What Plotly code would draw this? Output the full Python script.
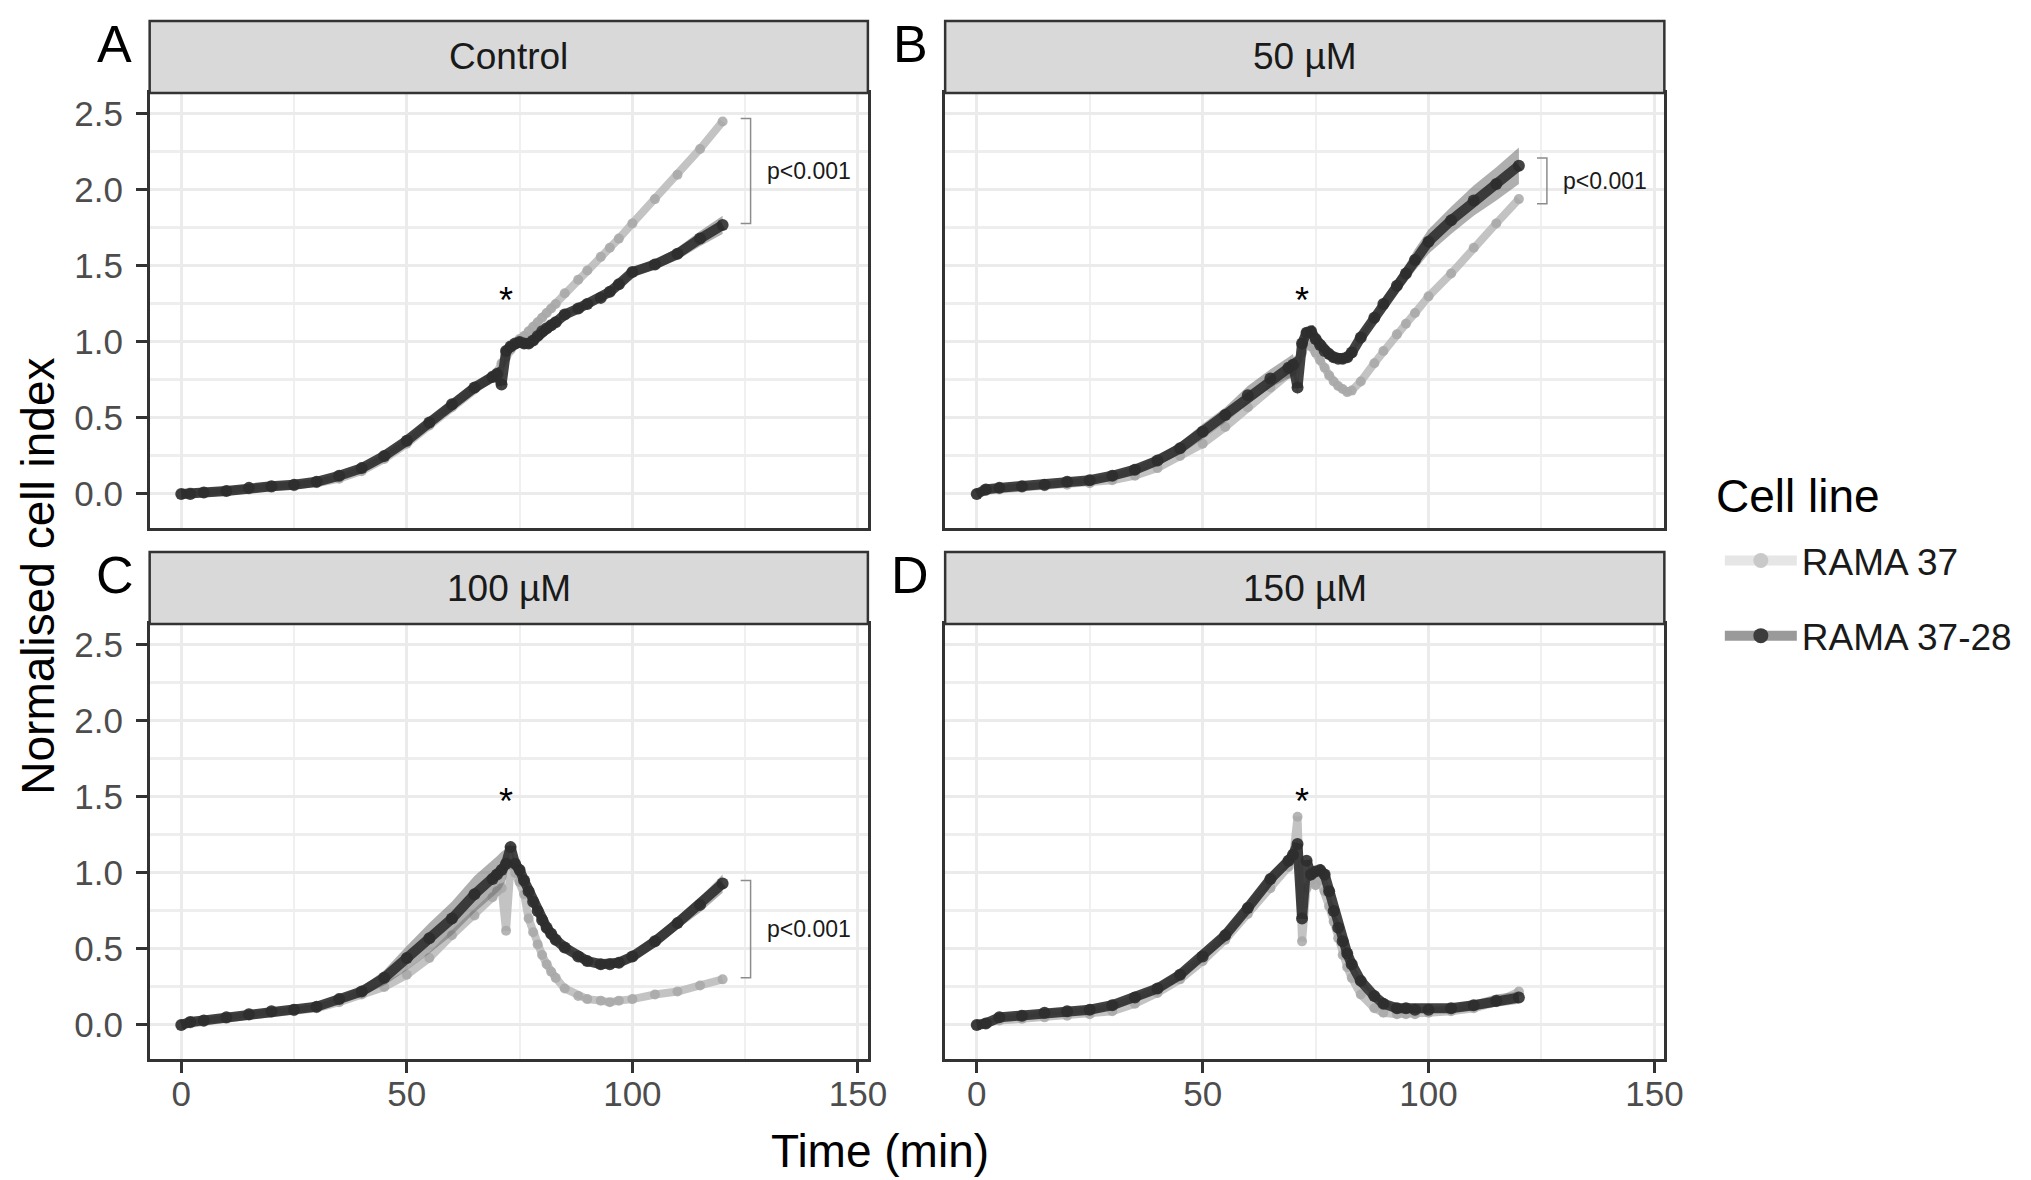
import plotly.graph_objects as go

# sampling times (min) shared by all panels
time_min = [0, 2, 5, 10, 15, 20, 25, 30, 35, 40, 45, 50, 55, 60, 65, 69, 70, 71, 72, 73,
            74, 75, 76, 77, 78, 79, 80, 81, 82, 83, 85, 88, 90, 93, 95, 97, 100, 105, 110, 115, 120]

panel_names = ["Control", "50 µM", "100 µM", "150 µM"]
panel_letters = ["A", "B", "C", "D"]
cell_lines = ["RAMA 37", "RAMA 37-28"]

# RAMA 37 (light grey)
rama37_control = [0.00, 0.01, 0.01, 0.02, 0.03, 0.04, 0.05, 0.07, 0.10, 0.15, 0.23, 0.33, 0.45, 0.57, 0.69, 0.78, 0.80, 0.86, 0.90, 0.95,
                  0.98, 1.02, 1.04, 1.07, 1.10, 1.13, 1.16, 1.19, 1.22, 1.25, 1.32, 1.41, 1.47, 1.56, 1.62, 1.68, 1.78, 1.94, 2.10, 2.27, 2.45]
rama37_50 = [0.00, 0.02, 0.03, 0.04, 0.05, 0.06, 0.07, 0.09, 0.12, 0.17, 0.25, 0.33, 0.44, 0.57, 0.70, 0.79, 0.81, 0.88, 0.93, 0.99,
             0.97, 0.93, 0.88, 0.83, 0.78, 0.74, 0.71, 0.69, 0.67, 0.68, 0.74, 0.86, 0.94, 1.05, 1.12, 1.19, 1.30, 1.45, 1.62, 1.78, 1.94]
rama37_100 = [0.00, 0.01, 0.02, 0.04, 0.06, 0.08, 0.09, 0.11, 0.15, 0.20, 0.25, 0.33, 0.44, 0.59, 0.72, 0.84, 0.88, 0.90, 0.62, 1.05,
              1.00, 0.94, 0.86, 0.70, 0.61, 0.53, 0.46, 0.40, 0.35, 0.31, 0.24, 0.19, 0.17, 0.16, 0.15, 0.16, 0.17, 0.20, 0.22, 0.26, 0.30]
rama37_150 = [0.00, 0.01, 0.03, 0.04, 0.05, 0.06, 0.07, 0.09, 0.14, 0.21, 0.30, 0.42, 0.56, 0.73, 0.90, 1.04, 1.10, 1.37, 0.55, 0.90,
              0.95, 0.92, 0.95, 0.88, 0.78, 0.68, 0.57, 0.46, 0.38, 0.31, 0.20, 0.11, 0.08, 0.07, 0.07, 0.07, 0.08, 0.09, 0.11, 0.15, 0.22]

# RAMA 37-28 (dark grey)
rama3728_control = [0.00, 0.00, 0.01, 0.02, 0.04, 0.05, 0.06, 0.08, 0.12, 0.17, 0.25, 0.35, 0.47, 0.59, 0.70, 0.77, 0.79, 0.72, 0.94, 0.97,
                    0.99, 1.00, 0.99, 0.99, 1.01, 1.04, 1.07, 1.09, 1.11, 1.13, 1.18, 1.22, 1.25, 1.29, 1.33, 1.38, 1.46, 1.51, 1.58, 1.68, 1.77]
rama3728_50 = [0.00, 0.03, 0.04, 0.05, 0.06, 0.08, 0.09, 0.12, 0.16, 0.22, 0.30, 0.41, 0.52, 0.65, 0.76, 0.83, 0.85, 0.70, 0.99, 1.06,
               1.07, 1.02, 0.98, 0.94, 0.92, 0.90, 0.89, 0.89, 0.90, 0.93, 1.03, 1.16, 1.25, 1.37, 1.45, 1.54, 1.66, 1.80, 1.93, 2.04, 2.16]
rama3728_100 = [0.00, 0.02, 0.03, 0.05, 0.07, 0.09, 0.10, 0.12, 0.17, 0.22, 0.31, 0.44, 0.57, 0.70, 0.86, 0.96, 0.99, 1.02, 1.06, 1.17,
                1.06, 1.02, 0.95, 0.88, 0.81, 0.75, 0.69, 0.64, 0.60, 0.56, 0.51, 0.45, 0.42, 0.40, 0.40, 0.41, 0.45, 0.55, 0.67, 0.79, 0.93]
rama3728_150 = [0.00, 0.01, 0.05, 0.06, 0.08, 0.09, 0.10, 0.13, 0.18, 0.24, 0.33, 0.45, 0.59, 0.77, 0.96, 1.08, 1.12, 1.19, 0.70, 1.08,
                0.99, 1.01, 1.02, 0.99, 0.88, 0.75, 0.64, 0.55, 0.47, 0.40, 0.29, 0.19, 0.14, 0.11, 0.11, 0.10, 0.10, 0.11, 0.13, 0.16, 0.18]

# spread of the RAMA 37-28 replicates (half width of the ribbon)
spread3728_control = [0.02, 0.02, 0.02, 0.02, 0.02, 0.02, 0.02, 0.02, 0.02, 0.02, 0.02, 0.03, 0.03, 0.03, 0.04, 0.04, 0.04, 0.04, 0.03, 0.02,
                      0.02, 0.02, 0.02, 0.02, 0.02, 0.02, 0.02, 0.02, 0.02, 0.02, 0.02, 0.02, 0.02, 0.02, 0.02, 0.03, 0.03, 0.03, 0.04, 0.05, 0.06]
spread3728_50 = [0.02, 0.02, 0.02, 0.02, 0.02, 0.02, 0.02, 0.02, 0.02, 0.03, 0.04, 0.05, 0.05, 0.06, 0.06, 0.07, 0.07, 0.05, 0.03, 0.02,
                 0.02, 0.02, 0.02, 0.02, 0.02, 0.02, 0.02, 0.02, 0.02, 0.02, 0.03, 0.03, 0.04, 0.05, 0.06, 0.07, 0.08, 0.09, 0.10, 0.11, 0.12]
spread3728_100 = [0.02, 0.02, 0.02, 0.02, 0.02, 0.02, 0.02, 0.02, 0.02, 0.03, 0.05, 0.08, 0.10, 0.11, 0.12, 0.12, 0.12, 0.12, 0.10, 0.03,
                  0.02, 0.02, 0.02, 0.02, 0.02, 0.02, 0.02, 0.02, 0.02, 0.02, 0.02, 0.02, 0.02, 0.02, 0.02, 0.03, 0.03, 0.04, 0.04, 0.05, 0.06]
spread3728_150 = [0.02, 0.02, 0.02, 0.02, 0.02, 0.02, 0.02, 0.02, 0.02, 0.03, 0.03, 0.03, 0.04, 0.04, 0.04, 0.04, 0.04, 0.03, 0.02, 0.02,
                  0.02, 0.02, 0.02, 0.02, 0.02, 0.02, 0.02, 0.02, 0.02, 0.02, 0.02, 0.02, 0.02, 0.02, 0.02, 0.02, 0.02, 0.02, 0.03, 0.04, 0.04]

pvalue_panels = ["Control", "50 µM", "100 µM"]
pvalue_text = "p<0.001"
star_y = [1.27, 1.27, 1.47, 1.47]
star_x = 72

light37 = [rama37_control, rama37_50, rama37_100, rama37_150]
dark3728 = [rama3728_control, rama3728_50, rama3728_100, rama3728_150]
spread3728 = [spread3728_control, spread3728_50, spread3728_100, spread3728_150]

W, H = 2031, 1180
FONT = "Liberation Sans, Arial, Helvetica, sans-serif"

# panel boxes in pixels: (left, right, strip_top, plot_top, plot_bottom)
boxes = [
    (143, 868, 13, 85, 520),
    (946, 1672, 13, 85, 520),
    (143, 868, 544, 616, 1051),
    (946, 1672, 544, 616, 1051),
]

fig = go.Figure()

for i in range(4):
    ax = "" if i == 0 else str(i + 1)
    xref, yref = "x" + ax, "y" + ax
    lo = [m - s for m, s in zip(dark3728[i], spread3728[i])]
    hi = [m + s for m, s in zip(dark3728[i], spread3728[i])]

    fig.add_trace(go.Scatter(x=time_min, y=light37[i], mode="lines+markers",
                             line=dict(color="rgba(185,185,185,0.85)", width=8),
                             marker=dict(color="rgba(168,168,168,0.85)", size=10),
                             showlegend=False, xaxis=xref, yaxis=yref, hoverinfo="skip"))
    fig.add_trace(go.Scatter(x=time_min, y=hi, mode="lines", line=dict(width=0),
                             showlegend=False, xaxis=xref, yaxis=yref, hoverinfo="skip"))
    fig.add_trace(go.Scatter(x=time_min, y=lo, mode="lines", line=dict(width=0),
                             fill="tonexty", fillcolor="rgba(110,110,110,0.55)",
                             showlegend=False, xaxis=xref, yaxis=yref, hoverinfo="skip"))
    fig.add_trace(go.Scatter(x=time_min, y=dark3728[i], mode="lines+markers",
                             line=dict(color="rgba(45,45,45,0.9)", width=10),
                             marker=dict(color="rgba(45,45,45,0.9)", size=12),
                             showlegend=False, xaxis=xref, yaxis=yref, hoverinfo="skip"))

# legend entries
fig.add_trace(go.Scatter(x=[None], y=[None], mode="lines+markers", name=cell_lines[0],
                         legendgroup="a", line=dict(color="#E6E6E6", width=24),
                         marker=dict(color="#C9C9C9", size=15)))
fig.add_trace(go.Scatter(x=[None], y=[None], mode="lines+markers", name=cell_lines[1],
                         legendgroup="b", line=dict(color="#9A9A9A", width=24),
                         marker=dict(color="#3C3C3C", size=15)))

layout = dict(
    width=W, height=H, margin=dict(l=0, r=0, t=0, b=0),
    paper_bgcolor="white", plot_bgcolor="white",
    font=dict(family=FONT, color="#1A1A1A"),
    showlegend=True,
    legend=dict(x=1728 / W, y=1 - 522 / H, xanchor="left", yanchor="top",
                font=dict(size=37, color="#1A1A1A"), itemwidth=72,
                tracegroupgap=24, bgcolor="rgba(0,0,0,0)"),
)

shapes = []
annotations = []
for i, (l, r, st, pt, pb) in enumerate(boxes):
    ax = "" if i == 0 else str(i + 1)
    bottom_row = i >= 2
    left_col = i % 2 == 0
    layout["xaxis" + ax] = dict(
        domain=[l / W, r / W], anchor="y" + ax, range=[-7.0, 152.2],
        tickvals=[0, 50, 100, 150], showticklabels=bottom_row,
        ticks="outside" if bottom_row else "", ticklen=11, tickwidth=2.5, tickcolor="#333333",
        ticklabelstandoff=-9,
        tickfont=dict(size=35, color="#4D4D4D"),
        showgrid=True, gridcolor="#EBEBEB", gridwidth=2.5, zeroline=False,
        minor=dict(tickvals=[25, 75, 125], showgrid=True, gridcolor="#F0F0F0", gridwidth=1.5),
        showline=True, mirror=True, linecolor="#333333", linewidth=2.5,
    )
    layout["yaxis" + ax] = dict(
        domain=[1 - pb / H, 1 - pt / H], anchor="x" + ax, range=[-0.224, 2.638],
        tickvals=[0, 0.5, 1.0, 1.5, 2.0, 2.5], tickformat=".1f", showticklabels=left_col,
        ticks="outside" if left_col else "", ticklen=11, tickwidth=2.5, tickcolor="#333333",
        ticklabelstandoff=6,
        tickfont=dict(size=35, color="#4D4D4D"),
        showgrid=True, gridcolor="#EBEBEB", gridwidth=3, zeroline=False,
        minor=dict(tickvals=[0.25, 0.75, 1.25, 1.75, 2.25], showgrid=True, gridcolor="#EEEEEE", gridwidth=2.5),
        showline=True, mirror=True, linecolor="#333333", linewidth=2.5,
    )
    # facet strip
    shapes.append(dict(type="rect", xref="paper", yref="paper",
                       x0=l / W, x1=r / W, y0=1 - pt / H, y1=1 - st / H,
                       fillcolor="#D9D9D9", line=dict(color="#333333", width=2.5)))
    annotations.append(dict(text=panel_names[i], xref="paper", yref="paper",
                            x=(l + r) / 2 / W, y=1 - (st + pt) / 2 / H,
                            xanchor="center", yanchor="middle", showarrow=False,
                            font=dict(size=37, color="#1A1A1A")))
    annotations.append(dict(text=panel_letters[i], xref="paper", yref="paper",
                            x=(l - 35) / W, y=1 - (st + 23) / H,
                            xanchor="center", yanchor="middle", showarrow=False,
                            font=dict(size=52, color="#000000")))
    # asterisk above the spike
    annotations.append(dict(text="*", x=star_x, y=star_y[i], xref="x" + ax, yref="y" + ax,
                            xanchor="center", yanchor="middle",
                            showarrow=False, font=dict(size=36, color="#000000")))
    # significance bracket between the end values
    if panel_names[i] in pvalue_panels:
        ends = [light37[i][-1], dark3728[i][-1]]
        ylo, yhi = min(ends), max(ends)
        pad = 0.02 if i != 1 else 0.05
        ylo, yhi = ylo + (-0.03 if i == 1 else 0.01), yhi + pad
        path = "M 124,{a} L 126.2,{a} L 126.2,{b} L 124,{b}".format(a=yhi, b=ylo)
        shapes.append(dict(type="path", path=path, xref="x" + ax, yref="y" + ax,
                           line=dict(color="#8C8C8C", width=1.5)))
        annotations.append(dict(text=pvalue_text, x=129.3, y=(ylo + yhi) / 2,
                                xref="x" + ax, yref="y" + ax, xanchor="left", yanchor="middle",
                                showarrow=False, font=dict(size=23, color="#1A1A1A")))

annotations.append(dict(text="Time (min)", xref="paper", yref="paper", x=880 / W, y=1 - 1143 / H,
                        xanchor="center", yanchor="middle",
                        showarrow=False, font=dict(size=46, color="#000000")))
annotations.append(dict(text="Normalised cell index", xref="paper", yref="paper", x=30 / W, y=1 - 568 / H,
                        xanchor="center", yanchor="middle",
                        textangle=-90, showarrow=False, font=dict(size=46, color="#000000")))
annotations.append(dict(text="Cell line", xref="paper", yref="paper", x=1722 / W, y=1 - 488 / H,
                        xanchor="left", yanchor="middle",
                        showarrow=False, font=dict(size=46, color="#000000")))

layout["shapes"] = shapes
layout["annotations"] = annotations
fig.update_layout(**layout)

fig.write_html("out.html")
